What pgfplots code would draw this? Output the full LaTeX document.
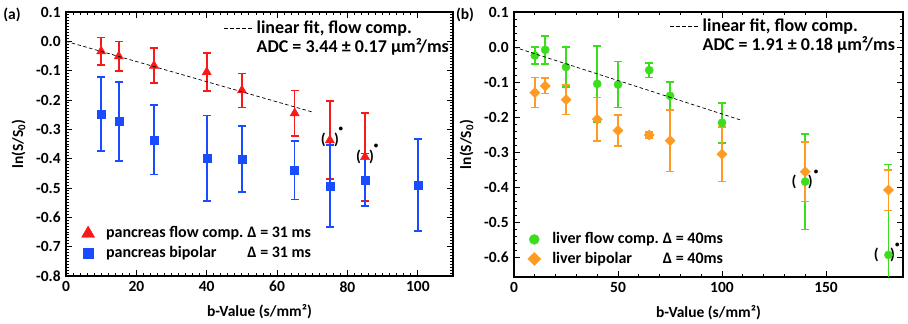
\documentclass[border=0pt]{standalone}
\usepackage{fontspec}
\setmainfont{Carlito}
\usepackage{pgfplots}
\pgfplotsset{compat=1.18}
\definecolor{cred}{RGB}{250,25,25}
\definecolor{cblue}{RGB}{25,75,255}
\definecolor{cgreen}{RGB}{60,220,30}
\definecolor{corange}{RGB}{255,155,35}
\newcommand{\tickfont}{\fontsize{15.5}{17}\selectfont}
\newcommand{\labfont}{\fontsize{15.5}{17}\selectfont}
\newcommand{\legfont}{\fontsize{16}{18}\selectfont}
\newcommand{\fitfont}{\fontsize{18}{20}\selectfont}
\pgfplotsset{
  myax/.style={
    scale only axis,
    axis line style={line width=1.2pt},
    every tick/.style={black, line width=0.9pt},
    major tick length=6pt, minor tick length=3pt,
    tick align=inside,
    tick label style={font=\tickfont},
    label style={font=\labfont},
    /pgf/number format/assume math mode=true,
    yticklabel style={/pgf/number format/fixed, /pgf/number format/fixed zerofill, /pgf/number format/precision=1},
    xlabel={b-Value (s/mm²)},
    ylabel={ln(S/S\textsubscript{0})},
    xlabel style={yshift=-2pt},
    legend columns=2,
    legend style={draw=none, fill=none, font=\legfont, row sep=5pt, inner sep=0pt, nodes={inner ysep=0.5pt, inner xsep=1pt}},
    legend cell align=left,
    legend image code/.code={\path[draw=none, fill=none] (-8pt,-4pt) rectangle (17pt,4pt); \draw[mark repeat=2, mark phase=2, ##1] plot coordinates {(-5pt,0pt)(0pt,0pt)(5pt,0pt)};},
  },
  fitax/.style={
    scale only axis, hide axis,
    legend style={draw=none, fill=none, font=\fitfont, row sep=0pt, inner sep=0pt, nodes={inner ysep=1pt, inner xsep=2pt}},
    legend cell align=left,
    legend image code/.code={\draw[##1] (0pt,0pt) -- (30pt,0pt);},
  },
  ebar/.style={error bars/.cd, y dir=both, y explicit,
    error bar style={line width=1.6pt, #1},
    error mark options={line width=1.6pt, mark size=4pt, #1, rotate=90}},
}
\begin{document}
\bfseries\fontsize{15.5}{17}\selectfont
\begin{tikzpicture}[x=1pt,y=1pt]
\useasboundingbox (0,0) rectangle (908,324);
\node[font=\fontsize{15.5}{17}\selectfont] at (12,309) {(a)};
\node[font=\fontsize{15.5}{17}\selectfont] at (465,309) {(b)};
% ---------------- panel (a)
\begin{axis}[myax, at={(66pt,48pt)}, anchor=south west, width=387pt, height=264pt,
  xmin=0, xmax=110, ymin=-0.8, ymax=0.1,
  xtick={0,20,...,100}, ytick={-0.8,-0.7,...,0.1},
  minor x tick num=9, minor y tick num=9,
  legend style={at={(rel axis cs:0.036,0.19)}, anchor=north west,
    /tikz/every even column/.append style={column sep=2pt}},
  ]
\addplot+[only marks, mark=triangle*, mark size=5.3pt, color=cred, mark options={fill=cred, draw=cred},
  legend image post style={mark size=7.5pt}, ebar=cred]
 coordinates {(10,-0.034)+-(0,0.047) (15,-0.051)+-(0,0.051) (25,-0.083)+-(0,0.060)
  (40,-0.105)+-(0,0.065) (50,-0.167)+-(0,0.058) (65,-0.245)+-(0,0.077)
  (75,-0.337)+-(0,0.133) (85,-0.394)+-(0,0.150)};
\addlegendentry{pancreas flow comp.}
\addlegendimage{empty legend}
\addlegendentry{Δ = 31 ms}
\addplot+[only marks, mark=square*, mark size=4pt, color=cblue, mark options={fill=cblue, draw=cblue},
  legend image post style={mark size=5.3pt}, ebar=cblue]
 coordinates {(10,-0.248)+-(0,0.126) (15,-0.273)+-(0,0.135) (25,-0.336)+-(0,0.118)
  (40,-0.399)+-(0,0.146) (50,-0.401)+-(0,0.112) (65,-0.439)+-(0,0.100)
  (75,-0.493)+-(0,0.140) (85,-0.472)+-(0,0.090) (100,-0.490)+-(0,0.157)};
\addlegendentry{pancreas bipolar}
\addlegendimage{empty legend}
\addlegendentry{Δ = 31 ms}
\node at (axis cs:75,-0.337) {\makebox[18pt]{(\hfill)}};
\node[font=\fontsize{9}{9}\selectfont] at (axis cs:75,-0.337) [xshift=11pt,yshift=11pt] {•};
\node at (axis cs:85,-0.394) {\makebox[18pt]{(\hfill)}};
\node[font=\fontsize{9}{9}\selectfont] at (axis cs:85,-0.394) [xshift=11pt,yshift=11pt] {•};
\end{axis}
\begin{axis}[fitax, at={(66pt,48pt)}, anchor=south west, width=387pt, height=264pt,
  xmin=0, xmax=110, ymin=-0.8, ymax=0.1,
  legend style={at={(rel axis cs:0.995,0.97)}, anchor=north east}]
\addplot[black, dash pattern=on 3.5pt off 2.5pt, line width=0.7pt] coordinates {(0,0) (70,-0.2408)};
\addlegendentry{linear fit, flow comp.}
\addlegendimage{empty legend}
\addlegendentry{ADC = 3.44 ± 0.17 µm²/ms}
\end{axis}
% ---------------- panel (b)
\begin{axis}[myax, at={(514pt,47pt)}, anchor=south west, width=389pt, height=265pt,
  xmin=0, xmax=187, ymin=-0.656, ymax=0.1,
  xtick={0,50,100,150}, ytick={-0.6,-0.5,...,0.1},
  minor x tick num=4, minor y tick num=4,
  legend style={at={(rel axis cs:0.031,0.17)}, anchor=north west,
    /tikz/every even column/.append style={column sep=2pt}},
  ]
\addplot+[only marks, mark=*, mark size=4.1pt, color=cgreen, mark options={fill=cgreen, draw=cgreen},
  legend image post style={mark size=5pt}, ebar=cgreen]
 coordinates {(10,-0.024)+-(0,0.025) (15,-0.008)+-(0,0.040) (25,-0.057)+-(0,0.057)
  (40,-0.105)+-(0,0.108) (50,-0.107)+-(0,0.066) (65,-0.066)+-(0,0.021)
  (75,-0.139)+-(0,0.040) (100,-0.216)+-(0,0.057) (140,-0.384)+-(0,0.136)
  (180,-0.593)+-(0,0.258)};
\addlegendentry{liver flow comp.}
\addlegendimage{empty legend}
\addlegendentry{Δ = 40ms}
\addplot+[only marks, mark=square*, mark size=3.6pt, color=corange, mark options={fill=corange, draw=corange, rotate=45},
  legend image post style={mark size=4.6pt}, ebar=corange]
 coordinates {(10,-0.130)+-(0,0.043) (15,-0.111)+-(0,0.022) (25,-0.150)+-(0,0.042)
  (40,-0.206)+-(0,0.062) (50,-0.238)+-(0,0.044) (65,-0.251)+-(0,0.008)
  (75,-0.267)+-(0,0.088) (100,-0.306)+-(0,0.078) (140,-0.356)+-(0,0.085)
  (180,-0.408)+-(0,0.058)};
\addlegendentry{liver bipolar}
\addlegendimage{empty legend}
\addlegendentry{Δ = 40ms}
\node at (axis cs:140,-0.384) [xshift=-3pt] {\makebox[21pt]{(\hfill)}};
\node[font=\fontsize{9}{9}\selectfont] at (axis cs:140,-0.384) [xshift=11pt,yshift=9pt] {•};
\node at (axis cs:180,-0.593) [xshift=-4pt] {\makebox[21pt]{(\hfill)}};
\node[font=\fontsize{9}{9}\selectfont] at (axis cs:180,-0.593) [xshift=9pt,yshift=10pt] {•};
\end{axis}
\begin{axis}[fitax, at={(514pt,47pt)}, anchor=south west, width=389pt, height=265pt,
  xmin=0, xmax=187, ymin=-0.656, ymax=0.1,
  legend style={at={(rel axis cs:0.985,0.977)}, anchor=north east}]
\addplot[black, dash pattern=on 3.5pt off 2.5pt, line width=0.7pt] coordinates {(0,0) (109,-0.2082)};
\addlegendentry{linear fit, flow comp.}
\addlegendimage{empty legend}
\addlegendentry{ADC = 1.91 ± 0.18 µm²/ms}
\end{axis}
\end{tikzpicture}
\end{document}
